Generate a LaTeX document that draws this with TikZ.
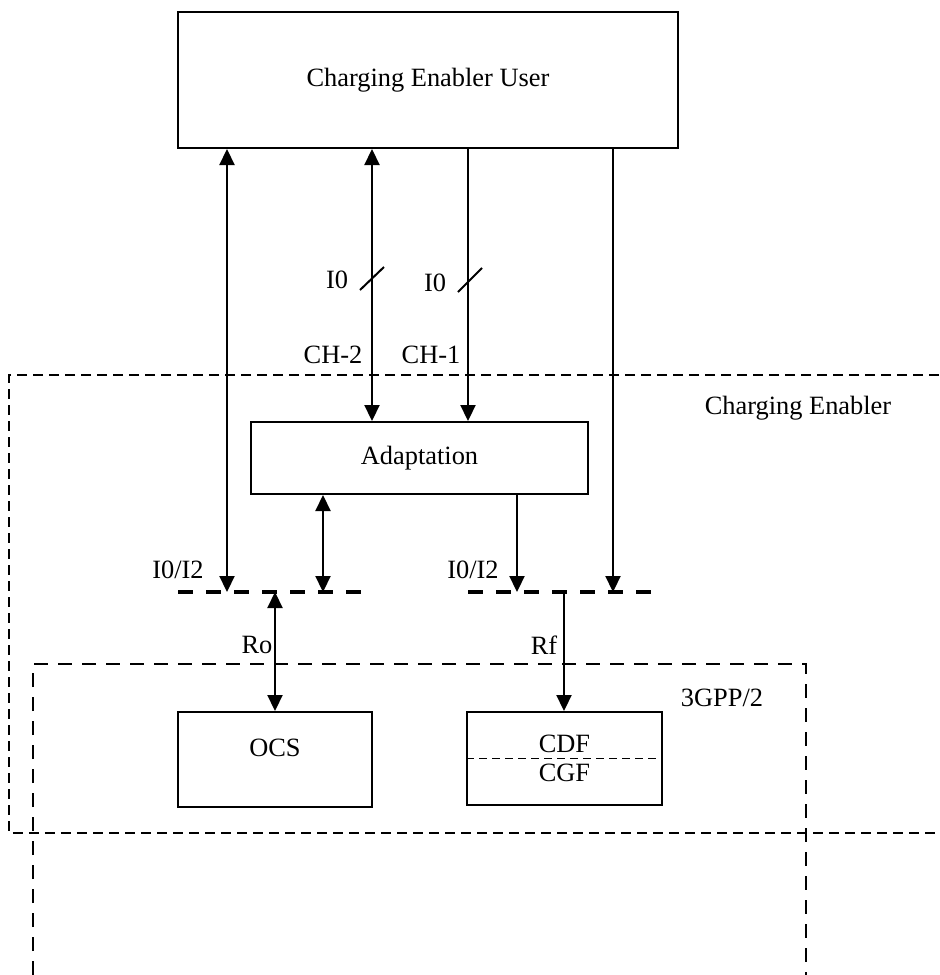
\documentclass[tikz,border=0pt]{standalone}
\usepackage{fontspec}
\setmainfont{Liberation Serif}
\usetikzlibrary{arrows.meta,positioning,calc}

\begin{document}
\begin{tikzpicture}[x=0.5pt, y=-0.5pt,
  box/.style={draw, line width=1pt, minimum width=#1, align=center, inner sep=0pt},
  link/.style={-{Triangle[length=8pt, width=7.5pt]}, line width=1.1pt},
  linkb/.style={{Triangle[length=8pt, width=7.5pt]}-{Triangle[length=8pt, width=7.5pt]}, line width=1.1pt},
  bus/.style={line width=1.6pt, dash pattern=on 7.5pt off 6.5pt},
  grp/.style={line width=1pt, dash pattern=on 5pt off 3pt},
  grpb/.style={line width=1pt, dash pattern=on 7pt off 5pt},
  lbl/.style={font=\fontsize{13.2}{15}\selectfont, inner sep=0pt},
  every node/.append style={font=\fontsize{13.2}{15}\selectfont},
]
\useasboundingbox (0,0) rectangle (939,975);

% groups
\draw[grp] (939,375) -- (9,375) -- (9,833) -- (939,833);
\draw[grpb] (33,975) -- (33,664) -- (806,664) -- (806,975);
\node[lbl] (cen) at (798,408) {Charging Enabler};
\node[lbl] (gpp) at (722,698) {3GPP/2};

% boxes
\node[box=250pt, minimum height=68pt] (user) at (428,80) {Charging Enabler User};
\node[box=168.5pt, minimum height=36pt] (adapt) at (419.5,458) {Adaptation};
\node[box=97pt, minimum height=47.5pt] (ocs) at (275,759.5) {};
\node[lbl] (ocst) at ($(ocs.center)+(0,-12)$) {OCS};
\node[box=97.5pt, minimum height=46.5pt] (cdf) at (564.5,758.5) {};
\draw[line width=0.8pt, dash pattern=on 4pt off 2.5pt] (cdf.west) -- (cdf.east);
\node[lbl, above=2.5pt of cdf.center] (cdft) {CDF};
\node[lbl, below=2.5pt of cdf.center] (cgft) {CGF};

% reference points
\coordinate (lbw) at (178,592);
\coordinate (lbe) at (362,592);
\coordinate (rbw) at (468,592);
\coordinate (rbe) at (652,592);
\coordinate (l1) at (227,592);
\coordinate (l2) at (323,592);
\coordinate (l3) at (275,592);
\coordinate (r1) at (517,592);
\coordinate (r2) at (613,592);
\coordinate (r3) at (564,592);
\coordinate (c2) at (372,422);
\coordinate (c1) at (468,422);

% buses
\draw[bus] (lbw) -- (lbe);
\draw[bus] (rbw) -- (rbe);

% connectors
\draw[linkb] (l1 |- user.south) -- (l1);
\draw[linkb] (c2 |- user.south) -- (c2 |- adapt.north);
\draw[link] (c1 |- user.south) -- (c1 |- adapt.north);
\draw[link] (r2 |- user.south) -- (r2);
\draw[linkb] (l2 |- adapt.south) -- (l2);
\draw[link] (r1 |- adapt.south) -- (r1);
\draw[linkb] (l3) -- (l3 |- ocs.north);
\draw[link] (r3) -- (r3 |- cdf.north);

% slashes
\draw[line width=1pt] (360,290) -- (384,267);
\draw[line width=1pt] (458,292) -- (482,268);

% labels
\node[lbl] (i0a) at (337,280) {I0};
\node[lbl] (i0b) at (435,283) {I0};
\node[lbl] (ch2) at (333,355) {CH-2};
\node[lbl] (ch1) at (431,355) {CH-1};
\node[lbl] (i02a) at (178,570) {I0/I2};
\node[lbl] (i02b) at (473,570) {I0/I2};
\node[lbl] (ro) at (257,645) {Ro};
\node[lbl] (rf) at (544,645) {Rf};
\end{tikzpicture}
\end{document}
